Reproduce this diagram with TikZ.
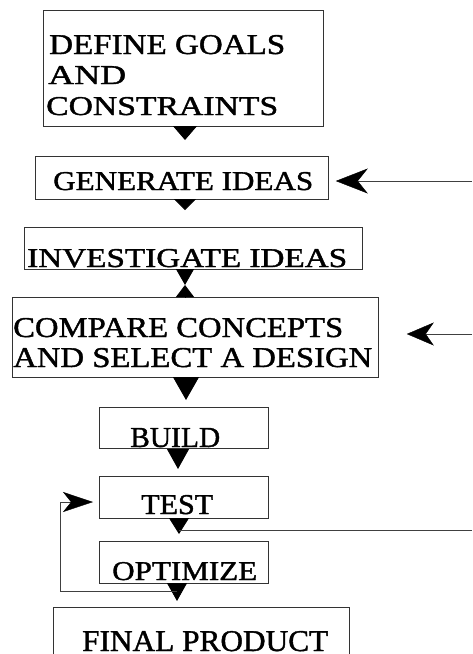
\documentclass[tikz,border=0pt]{standalone}
\usepackage{fontspec}
\setmainfont[FakeBold=1.3]{Liberation Serif}
\usetikzlibrary{arrows.meta}
\newcommand\fitcap[3]{\resizebox{#1pt}{#2pt}{#3}}
\begin{document}
\begin{tikzpicture}[x=1pt,y=-1pt,
  box/.style={draw=black!80, line width=0.8pt, inner sep=0pt, anchor=north west},
  boxline/.style={draw=black!80, line width=0.8pt},
  lbl/.style={anchor=base west, inner sep=0pt},
  dn/.style 2 args={line width=0.8pt, -{Triangle[width=#1pt,length=#2pt]}},
  thinline/.style={line width=0.6pt, draw=black!75}]
\useasboundingbox[fill=white] (0,0) rectangle (472,654);
% boxes
\node[box, minimum width=280pt, minimum height=116pt] (b1) at (43,10) {};
\node[box, minimum width=293pt, minimum height=43pt] (b2) at (35,156) {};
\node[box, minimum width=338pt, minimum height=42pt] (b3) at (24,227) {};
\node[box, minimum width=366pt, minimum height=80pt] (b4) at (12,297) {};
\node[box, minimum width=169pt, minimum height=41pt] (b5) at (99,407) {};
\node[box, minimum width=169pt, minimum height=42pt] (b6) at (99,476) {};
\node[box, minimum width=169pt, minimum height=42pt] (b7) at (99,541) {};
\node[box, draw=none, minimum width=296pt, minimum height=47pt] (b8) at (53,607) {};
\draw[boxline] (b8.south west) -- (b8.north west) -- (b8.north east) -- (b8.south east);
% labels
\node[lbl] (t1) at (49,54) {\fitcap{236}{19}{DEFINE GOALS}};
\node[lbl] (t2) at (48,84) {\fitcap{78}{18}{AND}};
\node[lbl] (t3) at (46,115) {\fitcap{232}{18}{CONSTRAINTS}};
\node[lbl] (t4) at (53,190) {\fitcap{260}{18}{GENERATE IDEAS}};
\node[lbl] (t5) at (27,267) {\fitcap{320}{18}{INVESTIGATE IDEAS}};
\node[lbl] (t6) at (13,337) {\fitcap{330}{19}{COMPARE CONCEPTS}};
\node[lbl] (t7) at (13,367) {\fitcap{359}{19}{AND SELECT A DESIGN}};
\node[lbl] (t8) at (130,447) {\fitcap{90}{19}{BUILD}};
\node[lbl] (t9) at (141,514) {\fitcap{72}{19}{TEST}};
\node[lbl] (t10) at (112,580) {\fitcap{145}{18}{OPTIMIZE}};
\node[lbl] (t11) at (82,651) {\fitcap{246}{20}{FINAL PRODUCT}};
% down arrows
\coordinate (a1) at (185,140);
\coordinate (a2) at (185,210);
\coordinate (m3) at (185,285);
\coordinate (a4) at (186,400);
\coordinate (a5) at (178,469);
\coordinate (a6) at (179,534);
\coordinate (a7) at (177,601);
\draw[dn={24}{14}] (b1.south -| a1) -- (a1);
\draw[dn={22}{11}] (b2.south -| a2) -- (a2);
\draw[dn={18}{16}] (b3.south -| m3) -- (m3);
\draw[dn={18}{12}] (b4.north -| m3) -- (m3);
\draw[dn={26}{23}] (b4.south -| a4) -- (a4);
\draw[dn={22}{20}] (b5.south -| a5) -- (a5);
\draw[dn={20}{16}] (b6.south -| a6) -- (a6);
\draw[dn={20}{18}] (b7.south -| a7) -- (a7);
% side arrows
\coordinate (r1) at (472,181);
\coordinate (r2) at (472,334);
\coordinate (r3) at (472,530);
\draw[thinline, -{Stealth[length=32pt,width=25pt,inset=10pt,black,line width=0.4pt]}, shorten >=7pt]
  (r1) -- (r1 -| b2.east);
\draw[thinline, -{Stealth[length=27pt,width=23pt,inset=8pt,black,line width=0.4pt]}, shorten >=28pt]
  (r2) -- (r2 -| b4.east);
\draw[thinline] (r3) -- (r3 -| a6);
% feedback loop
\coordinate (l1) at (60,591);
\coordinate (l2) at (60,502);
\draw[thinline, -{Stealth[length=30pt,width=20pt,inset=8pt,black,line width=0.4pt]}, shorten >=6pt]
  (a7 |- l1) -- (l1) -- (l2) -- (l2 -| b6.west);
\end{tikzpicture}
\end{document}
